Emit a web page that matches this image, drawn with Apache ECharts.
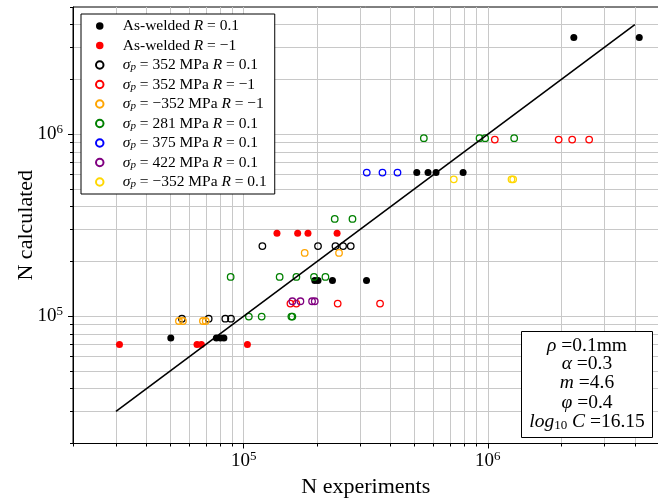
<!DOCTYPE html>
<html><head><meta charset="utf-8">
<script src="https://cdn.jsdelivr.net/npm/echarts@6/dist/echarts.min.js"></script>
<style>html,body{margin:0;padding:0;background:#fff}#c{width:658px;height:499px}</style>
</head><body><div id="c"></div>
<script>
// ---------- data ----------
const seriesNames = [
  'As-welded R = 0.1', 'As-welded R = −1',
  'σp = 352 MPa R = 0.1', 'σp = 352 MPa R = −1', 'σp = −352 MPa R = −1',
  'σp = 281 MPa R = 0.1', 'σp = 375 MPa R = 0.1', 'σp = 422 MPa R = 0.1', 'σp = −352 MPa R = 0.1'
];
const awR01_x = [50300, 77300, 80300, 83000, 195500, 201600, 231000, 318500, 511700, 569000, 613600, 792000, 2250000, 4170000];
const awR01_y = [76000, 76000, 76000, 76000, 157000, 157000, 157000, 157000, 616000, 616000, 616000, 616000, 3400000, 3400000];
const awRm1_x = [31000, 64400, 67100, 103600, 136900, 166400, 183400, 241300];
const awRm1_y = [70000, 70000, 70000, 70000, 286000, 286000, 286000, 286000];
const p352R01_x = [55860, 71900, 84100, 88700, 119300, 201600, 237600, 255400, 274500];
const p352R01_y = [97000, 97000, 97000, 97000, 243000, 243000, 243000, 243000, 243000];
const p352Rm1_x = [155400, 164300, 242700, 361900, 1068000, 1950000, 2215000, 2600000];
const p352Rm1_y = [117400, 117400, 117400, 117400, 935000, 935000, 935000, 935000];
const m352Rm1_x = [54300, 56400, 68100, 69900, 177800, 245800];
const m352Rm1_y = [94200, 94200, 94200, 94200, 222800, 222800];
const p281R01_x = [88450, 105000, 118500, 140400, 156800, 158300, 164400, 194100, 216200, 236000, 279000, 546900, 924800, 975000, 1282000];
const p281R01_y = [164500, 99600, 99600, 164500, 99600, 99600, 164500, 164500, 164500, 342400, 342400, 950800, 950800, 950800, 950800];
const p375R01_x = [319300, 370200, 426600];
const p375R01_y = [616000, 616000, 616000];
const p422R01_x = [158300, 170800, 190600, 195500];
const p422R01_y = [120900, 120900, 120900, 120900];
const m352R01_x = [725500, 1250000, 1270000];
const m352R01_y = [565000, 565000, 565000];
const fitLine_x = [30000, 4000000];
const fitLine_y = [30000, 4000000];

const xRange = [20000, 5000000];
const yRange = [20000, 5000000];
const majorTicks = [100000, 1000000];
const minorTicks = [20000, 30000, 40000, 50000, 60000, 70000, 80000, 90000,
  200000, 300000, 400000, 500000, 600000, 700000, 800000, 900000,
  2000000, 3000000, 4000000, 5000000];
const paramLines = [
  '{i|ρ} =0.1mm', '{i|α} =0.3', '{i|m} =4.6', '{i|φ} =0.4', '{i|log}{sub|10} {i|C} =16.15'
];

// ---------- style ----------
const FONT = '"Liberation Serif", "Times New Roman", serif';
const colors = ['#000000', '#ff0000', '#000000', '#ff0000', '#ffa500', '#008000', '#0000ff', '#800080', '#ffd700'];
const filled = [true, true, false, false, false, false, false, false, false];
const xs = [awR01_x, awRm1_x, p352R01_x, p352Rm1_x, m352Rm1_x, p281R01_x, p375R01_x, p422R01_x, m352R01_x];
const ys = [awR01_y, awRm1_y, p352R01_y, p352Rm1_y, m352Rm1_y, p281R01_y, p375R01_y, p422R01_y, m352R01_y];
function legendText(name) {
  let s = name.replace(/R = /, '{i|R} = ');
  s = s.replace(/^σp/, '{i|σ}{sub|p}');
  return s;
}
const allTicks = minorTicks.concat(majorTicks).sort((a, b) => a - b);
const labelRich = {
  b: { fontFamily: FONT, fontSize: 19, lineHeight: 22, color: '#000' },
  s: { fontFamily: FONT, fontSize: 13, lineHeight: 13, verticalAlign: 'top', color: '#000' }
};
function expLabel(v) { return '{b|10}{s|' + Math.round(Math.log10(v)) + '}'; }

function axes(isX) {
  const range = isX ? xRange : yRange;
  const ax = {
    type: 'log', logBase: 10, min: range[0], max: range[1],
    position: isX ? 'bottom' : 'left',
    name: isX ? 'N experiments' : 'N calculated',
    nameLocation: 'middle', nameGap: isX ? 32 : 36,
    nameTextStyle: { fontFamily: FONT, fontSize: 22, color: '#000' },
    axisLine: { show: true, onZero: false, lineStyle: { color: '#000', width: 1 } },
    axisTick: { show: true, inside: false, length: 3, customValues: allTicks, lineStyle: { color: '#000', width: 1 } },
    minorTick: { show: false }, minorSplitLine: { show: false },
    splitLine: { show: true, showMinLine: false, showMaxLine: false, lineStyle: { color: '#c8c8c8', width: 1 } },
    axisLabel: { show: true, customValues: majorTicks, margin: isX ? 7 : 10, formatter: expLabel, rich: labelRich },
    axisPointer: { show: false }
  };
  if (!isX) ax.nameMoveOverlap = false;
  return [ax, {
    type: 'log', logBase: 10, min: range[0], max: range[1],
    position: isX ? 'bottom' : 'left', offset: 0,
    axisLine: { show: false },
    axisTick: { show: true, inside: false, length: 5, customValues: majorTicks, lineStyle: { color: '#000', width: 1 } },
    axisLabel: { show: false }, splitLine: { show: false }, minorTick: { show: false }
  }];
}

const series = seriesNames.map((n, k) => ({
  type: 'scatter', name: n,
  xAxisIndex: 0, yAxisIndex: 0,
  data: xs[k].map((x, i) => [x, ys[k][i]]),
  symbol: 'circle',
  symbolSize: filled[k] ? 7 : 6.5,
  itemStyle: filled[k]
    ? { color: colors[k], borderWidth: 0, opacity: 1 }
    : { color: 'rgba(255,255,255,0)', borderColor: colors[k], borderWidth: 1.3, opacity: 1 },
  emphasis: { disabled: true },
  z: 3
}));
series.push({
  type: 'line', name: 'fit', xAxisIndex: 0, yAxisIndex: 0,
  data: fitLine_x.map((x, i) => [x, fitLine_y[i]]),
  symbol: 'none', lineStyle: { color: '#000', width: 1.6 },
  emphasis: { disabled: true }, z: 4
});

const boxRich = {
  i: { fontFamily: FONT, fontSize: 19.5, fontStyle: 'italic', lineHeight: 20, color: '#000' },
  sub: { fontFamily: FONT, fontSize: 13, lineHeight: 13, verticalAlign: 'bottom', color: '#000' }
};
const boxYs = [345.7, 364.3, 383.3, 403.3, 421.7];

const chart = echarts.init(document.getElementById('c'), null, { renderer: 'canvas' });
chart.setOption({
  animation: false,
  backgroundColor: '#fff',
  grid: { left: 73, top: 7, width: 585.5, height: 436.5, show: true, borderColor: '#000', borderWidth: 1, backgroundColor: 'transparent', containLabel: false, outerBoundsMode: 'none' },
  xAxis: axes(true),
  yAxis: axes(false),
  legend: {
    data: seriesNames,
    orient: 'vertical', left: 81, top: 14,
    padding: [4, 8, 4, 14], itemGap: 3.5,
    itemWidth: 36, itemHeight: 7.5,
    borderColor: '#000', borderWidth: 1, borderRadius: 0, backgroundColor: '#fff',
    selectedMode: false,
    formatter: legendText,
    textStyle: {
      fontFamily: FONT, fontSize: 15.5, lineHeight: 16, color: '#000',
      rich: {
        i: { fontFamily: FONT, fontSize: 15.5, fontStyle: 'italic', lineHeight: 16, color: '#000' },
        sub: { fontFamily: FONT, fontSize: 11, fontStyle: 'italic', lineHeight: 10, verticalAlign: 'bottom', color: '#000' }
      }
    },
    z: 10
  },
  tooltip: { show: false },
  series: series,
  graphic: [{
    type: 'rect', z: 20,
    shape: { x: 521.5, y: 331.5, width: 131, height: 106 },
    style: { fill: '#fff', stroke: '#000', lineWidth: 1 }
  }].concat(paramLines.map((t, i) => ({
    type: 'text', z: 21, x: 587, y: boxYs[i],
    style: { text: t, rich: boxRich, fontFamily: FONT, fontSize: 19.5, lineHeight: 20, fill: '#000', align: 'center', verticalAlign: 'middle' }
  })))
});
</script></body></html>
